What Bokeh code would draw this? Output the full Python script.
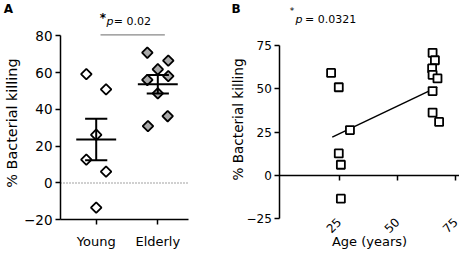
import numpy as np
from math import pi
from bokeh.plotting import figure
from bokeh.layouts import row
from bokeh.models import Range1d, FixedTicker, LinearAxis, Label
from bokeh.embed import file_html
from bokeh.resources import INLINE

# ---------------- data ----------------
groups = ["Young", "Elderly"]
group_pos = [1, 2]
young_kill = [59.2, 50.9, 26.2, 12.7, 6.2, -13.4]
young_jitter = [-0.16, 0.16, 0.0, -0.16, 0.16, 0.0]
elderly_kill = [70.8, 66.5, 61.8, 58.1, 56.0, 48.7, 36.3, 30.9]
elderly_jitter = [-0.17, 0.17, 0.0, 0.17, -0.17, 0.0, 0.16, -0.16]
a_yticks = [-20, 0, 20, 40, 60, 80]
p_value_a = "= 0.02"

young_age = [21.6, 24.9, 29.7, 24.9, 25.8, 25.8]
elderly_age = [65.2, 66.2, 65.0, 65.2, 67.3, 65.2, 65.2, 68.0]
fit_age = [22.1, 67.2]
fit_kill = [22.1, 51.0]
b_xticks = [25, 50, 75]
b_yticks = [-25, 0, 25, 50, 75]
p_value_b = "= 0.0321"

FONT = "DejaVu Sans"


def make_axis(kind, loc, ticks, bounds, label_size, **kw):
    ax = kind(fixed_location=loc, ticker=FixedTicker(ticks=ticks), bounds=bounds,
              axis_line_width=1.5, axis_line_color="black",
              major_tick_line_width=1.5, major_tick_line_color="black",
              major_tick_in=0, major_tick_out=5, minor_tick_line_color=None,
              major_label_text_font=FONT, major_label_text_font_size=label_size,
              major_label_text_color="black", **kw)
    return ax


def txt(p, x, y, text, size, **kw):
    p.add_layout(Label(x=x, y=y, text=text, text_font=FONT, text_font_size=size,
                       text_color="black", **kw))


def base_fig(width, xr, yr):
    p = figure(width=width, height=254, x_range=Range1d(*xr), y_range=Range1d(*yr),
               output_backend="svg", toolbar_location=None, title=None,
               x_axis_location=None, y_axis_location=None,
               min_border_left=0, min_border_right=0, min_border_top=0, min_border_bottom=0)
    p.grid.visible = False
    p.outline_line_color = None
    return p


# ---------------- panel A ----------------
pa = base_fig(230, (-0.5536, 3.180), (-38.86, 99.18))
a_left, a_right = 0.4204, 2.4984
pa.add_layout(make_axis(LinearAxis, a_left, a_yticks, (a_yticks[0], a_yticks[-1]), "13.5px",
                        major_label_standoff=3), "left")
pa.add_layout(make_axis(LinearAxis, a_yticks[0], group_pos, (a_left, a_right), "13px",
                        major_label_standoff=9,
                        major_label_overrides={p: g for p, g in zip(group_pos, groups)}), "below")

# dotted zero line
pa.line([a_left, a_right], [0, 0], line_color="#444444", line_width=1.2, line_dash="1 2")

pa.scatter([group_pos[0] + j for j in young_jitter], young_kill, marker="square",
           angle=pi / 4, size=7.5, fill_color="white", line_color="black", line_width=1.8)
pa.scatter([group_pos[1] + j for j in elderly_jitter], elderly_kill, marker="square",
           angle=pi / 4, size=7.5, fill_color="#a9a9a9", line_color="black", line_width=1.8)

means = [float(np.mean(young_kill)), float(np.mean(elderly_kill))]
sems = [float(np.std(young_kill, ddof=1) / np.sqrt(len(young_kill))),
        float(np.std(elderly_kill, ddof=1) / np.sqrt(len(elderly_kill)))]
gp = np.array(group_pos, dtype=float)
m = np.array(means)
s = np.array(sems)
pa.segment(x0=gp - 0.324, x1=gp + 0.324, y0=m, y1=m, line_color="black", line_width=2)
pa.segment(x0=gp, x1=gp, y0=m - s, y1=m + s, line_color="black", line_width=2)
pa.segment(x0=gp - 0.18, x1=gp + 0.18, y0=m + s, y1=m + s, line_color="black", line_width=2)
pa.segment(x0=gp - 0.18, x1=gp + 0.18, y0=m - s, y1=m - s, line_color="black", line_width=2)

# significance bracket and texts
pa.line([group_pos[0] + 0.07, group_pos[1] + 0.114], [80.5, 80.5], line_color="#888888", line_width=1.2)
txt(pa, 1.11, 86.1, "*", "12px", text_font_style="bold", text_align="center")
txt(pa, 1.167, 84.1, "p", "11px", text_font_style="italic")
txt(pa, 1.285, 84.1, p_value_a, "11px")
txt(pa, -0.5, 91.0, "A", "12px", text_font_style="bold")
txt(pa, -0.375, 32.6, "% Bacterial killing", "14.4px", angle=pi / 2,
    text_align="center", text_baseline="middle")

# ---------------- panel B ----------------
pb = base_fig(229, (-21.61, 76.76), (-45.6, 100.97))
b_left, b_right = -0.43, 76.76
pb.add_layout(make_axis(LinearAxis, b_left, b_yticks, (b_yticks[0], b_yticks[-1]), "12px",
                        major_label_standoff=3), "left")
# axis line at y = 0 with ticks, no labels
pb.add_layout(make_axis(LinearAxis, 0, b_xticks, (b_left, b_right), "12px",
                        major_label_text_alpha=0), "below")
# rotated tick labels along the bottom
pb.add_layout(make_axis(LinearAxis, b_yticks[0], b_xticks, (b_left, b_right), "12px",
                        major_label_orientation=pi / 4, major_label_standoff=1), "below")
pb.below[-1].axis_line_color = None
pb.below[-1].major_tick_line_color = None
pb.below[-1].major_tick_out = 0

pb.line(fit_age, fit_kill, line_color="black", line_width=1.5)
pb.scatter(young_age + elderly_age, young_kill + elderly_kill, marker="square", size=8,
           fill_color="white", line_color="black", line_width=1.8)

txt(pb, 4.81, 92.3, "*", "9px", text_align="center")
txt(pb, 6.31, 85.97, "p", "11px", text_font_style="italic")
txt(pb, 10.4, 85.97, p_value_b, "11px")
txt(pb, -21.18, 92.3, "B", "12px", text_font_style="bold")
txt(pb, 38.1, -42.3, "Age (years)", "13px", text_align="center")
txt(pb, -18.6, 32.3, "% Bacterial killing", "13.6px", angle=pi / 2,
    text_align="center", text_baseline="middle")

layout = row(pa, pb)

open("out.html", "w").write(file_html(layout, INLINE))
